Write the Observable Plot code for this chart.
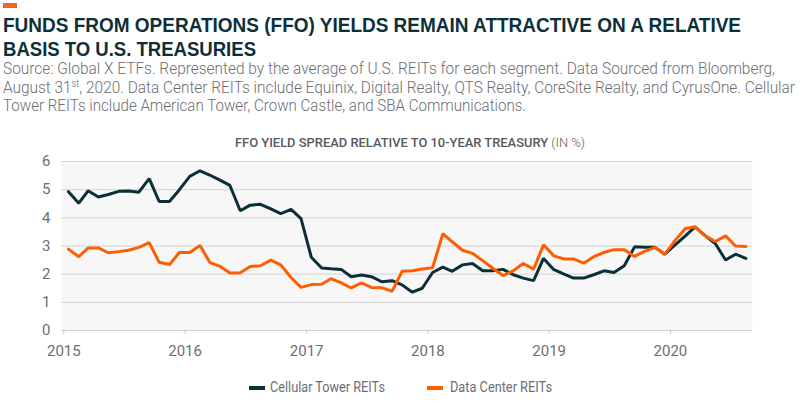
<!DOCTYPE html>
<html>
<head>
<meta charset="utf-8">
<script src="https://cdn.jsdelivr.net/npm/d3@7"></script>
<script src="https://cdn.jsdelivr.net/npm/@observablehq/plot@0.6"></script>
<style>
  html, body { margin: 0; padding: 0; background: #fff; }
  body { width: 800px; height: 413px; position: relative; overflow: hidden; font-family: "Roboto", "Liberation Sans", sans-serif; }
  .abs { position: absolute; white-space: nowrap; transform-origin: 0 0; }
  .title { font-family: "Liberation Sans", "Roboto", sans-serif; font-weight: bold; font-size: 21px; color: #0d3038; line-height: 24px; }
  .sub { font-size: 16.5px; color: #6d6e71; line-height: 18px; font-weight: 300; }
  .ctitle { font-size: 13.5px; color: #58595b; font-weight: 500; line-height: 16px; }
  .ctitle span { font-weight: 300; }
  .leg { font-size: 15px; color: #6d6e71; line-height: 16px; }
  .sw { position: absolute; height: 4px; width: 16px; }
  #chart { position: absolute; left: 0; top: 120px; }
</style>
</head>
<body>
<div class="abs" style="left:3px;top:3px;width:14px;height:5px;background:#f26522"></div>
<div class="abs title" id="t1" style="left:3px;top:13px">FUNDS FROM OPERATIONS (FFO) YIELDS REMAIN ATTRACTIVE ON A RELATIVE</div>
<div class="abs title" id="t2" style="left:3px;top:37px">BASIS TO U.S. TREASURIES</div>
<div class="abs sub" id="s1" style="left:3px;top:60px">Source: Global X ETFs. Represented by the average of U.S. REITs for each segment. Data Sourced from Bloomberg,</div>
<div class="abs sub" id="s2" style="left:3px;top:79px">August 31<sup style="font-size:10px;line-height:0">st</sup>, 2020. Data Center REITs include Equinix, Digital Realty, QTS Realty, CoreSite Realty, and CyrusOne. Cellular</div>
<div class="abs sub" id="s3" style="left:3px;top:97px">Tower REITs include American Tower, Crown Castle, and SBA Communications.</div>
<div class="abs ctitle" id="ct" style="left:235px;top:134px">FFO YIELD SPREAD RELATIVE TO 10-YEAR TREASURY <span>(IN %)</span></div>
<div id="chart"></div>
<div class="sw" style="left:249px;top:386px;background:#0b2f36"></div>
<div class="abs leg" id="l1" style="left:270px;top:379px">Cellular Tower REITs</div>
<div class="sw" style="left:427px;top:386px;background:#ff5e00"></div>
<div class="abs leg" id="l2" style="left:450px;top:379px">Data Center REITs</div>
<script>
// Monthly observations, Jan 2015 – Aug 2020
const seriesNames = ["Cellular Tower REITs", "Data Center REITs"];
const seriesColors = ["#0b2f36", "#ff5e00"];
const yearTicks = ["2015", "2016", "2017", "2018", "2019", "2020"];
const yTicks = [0, 1, 2, 3, 4, 5, 6];

const cellularTower = [
  4.93, 4.52, 4.96, 4.74, 4.83, 4.94, 4.95, 4.91, 5.39, 4.58, 4.58, 5.00,
  5.47, 5.67, 5.52, 5.34, 5.15, 4.25, 4.45, 4.48, 4.32, 4.15, 4.30, 3.97,
  2.60, 2.22, 2.19, 2.17, 1.91, 1.97, 1.91, 1.73, 1.77, 1.62, 1.36, 1.50,
  2.06, 2.25, 2.10, 2.33, 2.38, 2.12, 2.12, 2.17, 1.98, 1.86, 1.77, 2.56,
  2.16, 2.00, 1.86, 1.86, 1.98, 2.12, 2.06, 2.30, 2.97, 2.96, 2.96, 2.71,
  3.04, 3.36, 3.68, 3.36, 3.09, 2.50, 2.71, 2.56
];
const dataCenter = [
  2.89, 2.62, 2.93, 2.93, 2.76, 2.80, 2.85, 2.95, 3.12, 2.42, 2.34, 2.77,
  2.77, 3.02, 2.42, 2.28, 2.04, 2.05, 2.27, 2.30, 2.50, 2.33, 1.88, 1.53,
  1.63, 1.64, 1.84, 1.69, 1.51, 1.69, 1.53, 1.52, 1.39, 2.10, 2.12, 2.18,
  2.23, 3.44, 3.15, 2.85, 2.74, 2.48, 2.21, 1.95, 2.12, 2.38, 2.18, 3.04,
  2.65, 2.54, 2.54, 2.39, 2.62, 2.77, 2.87, 2.87, 2.63, 2.81, 2.95, 2.71,
  3.20, 3.62, 3.68, 3.36, 3.16, 3.36, 3.00, 2.98
];
const months = d3.utcMonths(new Date(Date.UTC(2015, 0, 1)), new Date(Date.UTC(2020, 8, 1)))
  .map(d => new Date(Date.UTC(d.getUTCFullYear(), d.getUTCMonth(), 15)));

const rows = [];
[cellularTower, dataCenter].forEach((vals, s) => {
  vals.forEach((v, i) => rows.push({date: months[i], value: v, series: seriesNames[s]}));
});

const font = '"Roboto", "Liberation Sans", sans-serif';
const chart = Plot.plot({
  width: 800,
  height: 250,
  marginLeft: 61,
  marginRight: 48,
  marginTop: 41,
  marginBottom: 40,
  style: {fontFamily: font, background: "transparent"},
  x: {type: "utc", domain: [new Date("2014-12-25"), new Date("2020-09-04")], label: null},
  y: {domain: [0, 6], label: null},
  color: {domain: seriesNames, range: seriesColors},
  marks: [
    Plot.frame({fill: "#f7f7f7", stroke: null}),
    Plot.gridY(yTicks, {stroke: "#d3d3d3", strokeOpacity: 1, strokeWidth: 1}),
    Plot.axisY(yTicks, {tickSize: 0, tickPadding: 11, fontSize: 15, fill: "#6d6e71", label: null}),
    Plot.axisX(yearTicks.map(y => new Date(y + "-01-01")), {tickSize: 4, tickPadding: 11, fontSize: 15, stroke: "#c8c8c8", fill: "#6d6e71", tickFormat: d3.utcFormat("%Y"), label: null}),
    Plot.line(rows, {x: "date", y: "value", z: "series", stroke: "series", strokeWidth: 3, strokeLinejoin: "miter", curve: "linear"})
  ]
});
document.getElementById("chart").appendChild(chart);

function fit(id, target) {
  const el = document.getElementById(id);
  const w = el.getBoundingClientRect().width;
  el.style.transform = `scaleX(${target / w})`;
}
fit("t1", 738);
fit("t2", 253);
fit("s1", 772);
fit("s2", 792);
fit("s3", 523);
fit("ct", 350);
fit("l1", 115);
fit("l2", 102);
</script>
</body>
</html>
